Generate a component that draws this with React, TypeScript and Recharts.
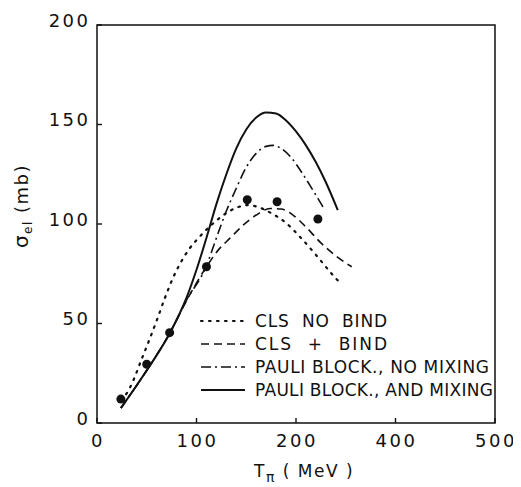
import React from "react";
import { ComposedChart, Line, Scatter, XAxis, YAxis, ReferenceArea } from "recharts";

const FONT = "'DejaVu Sans', Verdana, sans-serif";

const xTicks = [0, 100, 200, 300, 400];
const xTickLabels = ["0", "100", "200", "400", "500"];
const yTicks = [0, 50, 100, 150, 200];

const legendLabels = [
  "CLS  NO  BIND",
  "CLS  +  BIND",
  "PAULI BLOCK., NO MIXING",
  "PAULI BLOCK., AND MIXING",
];

const clsNoBind = [
  { x: 24, y: 11.5 }, { x: 30, y: 15 }, { x: 37, y: 22 }, { x: 44, y: 31 },
  { x: 52, y: 41 }, { x: 60, y: 51.5 }, { x: 68, y: 62.5 }, { x: 76, y: 72.5 },
  { x: 84, y: 80.5 }, { x: 92, y: 87 }, { x: 102, y: 93 }, { x: 115, y: 99.5 },
  { x: 130, y: 105.5 }, { x: 142, y: 108.5 }, { x: 152, y: 109.5 }, { x: 162, y: 108.5 },
  { x: 175, y: 105.5 }, { x: 190, y: 100.5 }, { x: 205, y: 93 }, { x: 220, y: 84.5 },
  { x: 235, y: 75.5 }, { x: 245, y: 70 },
];

const clsBind = [
  { x: 24, y: 7.5 }, { x: 40, y: 19 }, { x: 56, y: 31 }, { x: 73, y: 45 },
  { x: 90, y: 61.5 }, { x: 110, y: 78.5 }, { x: 122, y: 87 }, { x: 134, y: 93 },
  { x: 146, y: 99 }, { x: 160, y: 104.5 }, { x: 174, y: 107.8 }, { x: 185, y: 107.5 },
  { x: 197, y: 104.5 }, { x: 210, y: 98.5 }, { x: 225, y: 90.5 }, { x: 240, y: 84 },
  { x: 256, y: 78.5 },
];

const pauliNoMixing = [
  { x: 24, y: 7.5 }, { x: 40, y: 19 }, { x: 56, y: 31 }, { x: 73, y: 45 },
  { x: 90, y: 61.8 }, { x: 110, y: 79 }, { x: 120, y: 93 }, { x: 130, y: 106.5 },
  { x: 140, y: 118 }, { x: 150, y: 128.5 }, { x: 160, y: 135.5 }, { x: 170, y: 139 },
  { x: 177, y: 139.5 }, { x: 185, y: 138 }, { x: 195, y: 133.5 }, { x: 205, y: 126.5 },
  { x: 217, y: 117 }, { x: 229, y: 107 },
];

const pauliMixing = [
  { x: 24, y: 7.5 }, { x: 40, y: 19 }, { x: 56, y: 31 }, { x: 73, y: 45 },
  { x: 90, y: 63 }, { x: 100, y: 77 }, { x: 110, y: 93 }, { x: 120, y: 110 },
  { x: 130, y: 125 }, { x: 140, y: 138 }, { x: 150, y: 147.5 }, { x: 160, y: 153.5 },
  { x: 170, y: 156 }, { x: 180, y: 155.5 }, { x: 190, y: 152 }, { x: 200, y: 146.5 },
  { x: 210, y: 139.5 }, { x: 220, y: 131 }, { x: 230, y: 121 }, { x: 242, y: 107 },
];

const measured = [
  { x: 24, y: 12 }, { x: 50, y: 29.5 }, { x: 73, y: 45.4 }, { x: 110, y: 78.5 },
  { x: 151, y: 112.2 }, { x: 181, y: 111.2 }, { x: 222, y: 102.5 },
];

const INK = "#111";
const styles = [
  { dash: "1.6 6.4", width: 2.2, cap: "round" },
  { dash: "8 5", width: 1.6, cap: "butt" },
  { dash: "10 4 2 4", width: 1.6, cap: "butt" },
  { dash: undefined, width: 2, cap: "butt" },
];
const legendWidths = [132, 132, 234, 238];

const XTick = (props: any) => {
  const { x, y, payload } = props;
  const i = xTicks.indexOf(payload.value);
  return (
    <g>
      <line x1={x} y1={y} x2={x} y2={y - 5} stroke={INK} strokeWidth={1.4} />
      <text x={x + 1} y={y + 24} textAnchor="middle" fontSize={18} fontFamily={FONT} letterSpacing={2.5} fill={INK}>
        {xTickLabels[i]}
      </text>
    </g>
  );
};

const YTick = (props: any) => {
  const { x, y, payload } = props;
  return (
    <g>
      <line x1={x} y1={y} x2={x + 5} y2={y} stroke={INK} strokeWidth={1.4} />
      <text x={x - 6.5} y={y + 1.5} textAnchor="end" fontSize={18} fontFamily={FONT} letterSpacing={2.5} fill={INK}>
        {payload.value}
      </text>
    </g>
  );
};

const LegendBox = () => (
  <g transform="translate(182,297)">
    {legendLabels.map((lab, i) => {
      const cy = 16 + i * 23;
      const s = styles[i];
      return (
        <g key={lab}>
          <line
            x1={11}
            y1={cy}
            x2={55}
            y2={cy}
            stroke={INK}
            strokeWidth={s.width}
            strokeDasharray={s.dash}
            strokeLinecap={s.cap as any}
          />
          <text
            x={65}
            y={cy + 6}
            fontSize={17}
            fontFamily={FONT}
            fill={INK}
            textLength={legendWidths[i]}
            lengthAdjust="spacing"
            style={{ whiteSpace: "pre" }}
          >
            {lab}
          </text>
        </g>
      );
    })}
  </g>
);

const XLabel = () => (
  <g>
    <text x={246} y={469} fontSize={17} fontFamily={FONT} fill={INK} letterSpacing={1.5}>
      T
      <tspan fontSize={14} dy={5}>π</tspan>
      <tspan dy={-5}>{" ( MeV )"}</tspan>
    </text>
    <LegendBox />
  </g>
);

const YLabel = () => (
  <text
    x={0}
    y={0}
    transform="translate(20,198) rotate(-90)"
    textAnchor="middle"
    fontSize={18}
    fontFamily={FONT}
    fill={INK}
    letterSpacing={1.5}
  >
    <tspan fontSize={20}>σ</tspan>
    <tspan fontSize={12} dy={4}>el</tspan>
    <tspan dy={-4}>{"  (mb)"}</tspan>
  </text>
);

const series = [clsNoBind, clsBind, pauliNoMixing, pauliMixing];

export default function App() {
  return (
    <ComposedChart width={513} height={479} margin={{ top: 17, right: 26, left: 0, bottom: 0 }}>
      <XAxis
        dataKey="x"
        type="number"
        domain={[0, 400]}
        ticks={xTicks}
        allowDataOverflow
        axisLine={false}
        tickLine={false}
        tickSize={0}
        tickMargin={0}
        height={64}
        tick={<XTick />}
        label={{ content: () => <XLabel /> }}
      />
      <YAxis
        type="number"
        domain={[0, 200]}
        ticks={yTicks}
        allowDataOverflow
        axisLine={false}
        tickLine={false}
        tickSize={0}
        tickMargin={0}
        width={89}
        tick={<YTick />}
        label={{ content: () => <YLabel /> }}
      />
      <ReferenceArea x1={0} x2={400} y1={0} y2={200} fill="none" fillOpacity={0} stroke={INK} strokeWidth={1.5} />
      {series.map((d, i) => (
        <Line
          key={i}
          data={d}
          dataKey="y"
          type="monotone"
          stroke={INK}
          strokeWidth={styles[i].width}
          strokeDasharray={styles[i].dash}
          strokeLinecap={styles[i].cap as any}
          dot={false}
          activeDot={false}
          isAnimationActive={false}
        />
      ))}
      <Scatter
        data={measured}
        dataKey="y"
        fill={INK}
        isAnimationActive={false}
        shape={(p: any) => <circle cx={p.cx} cy={p.cy} r={4.5} fill={INK} />}
      />
    </ComposedChart>
  );
}
